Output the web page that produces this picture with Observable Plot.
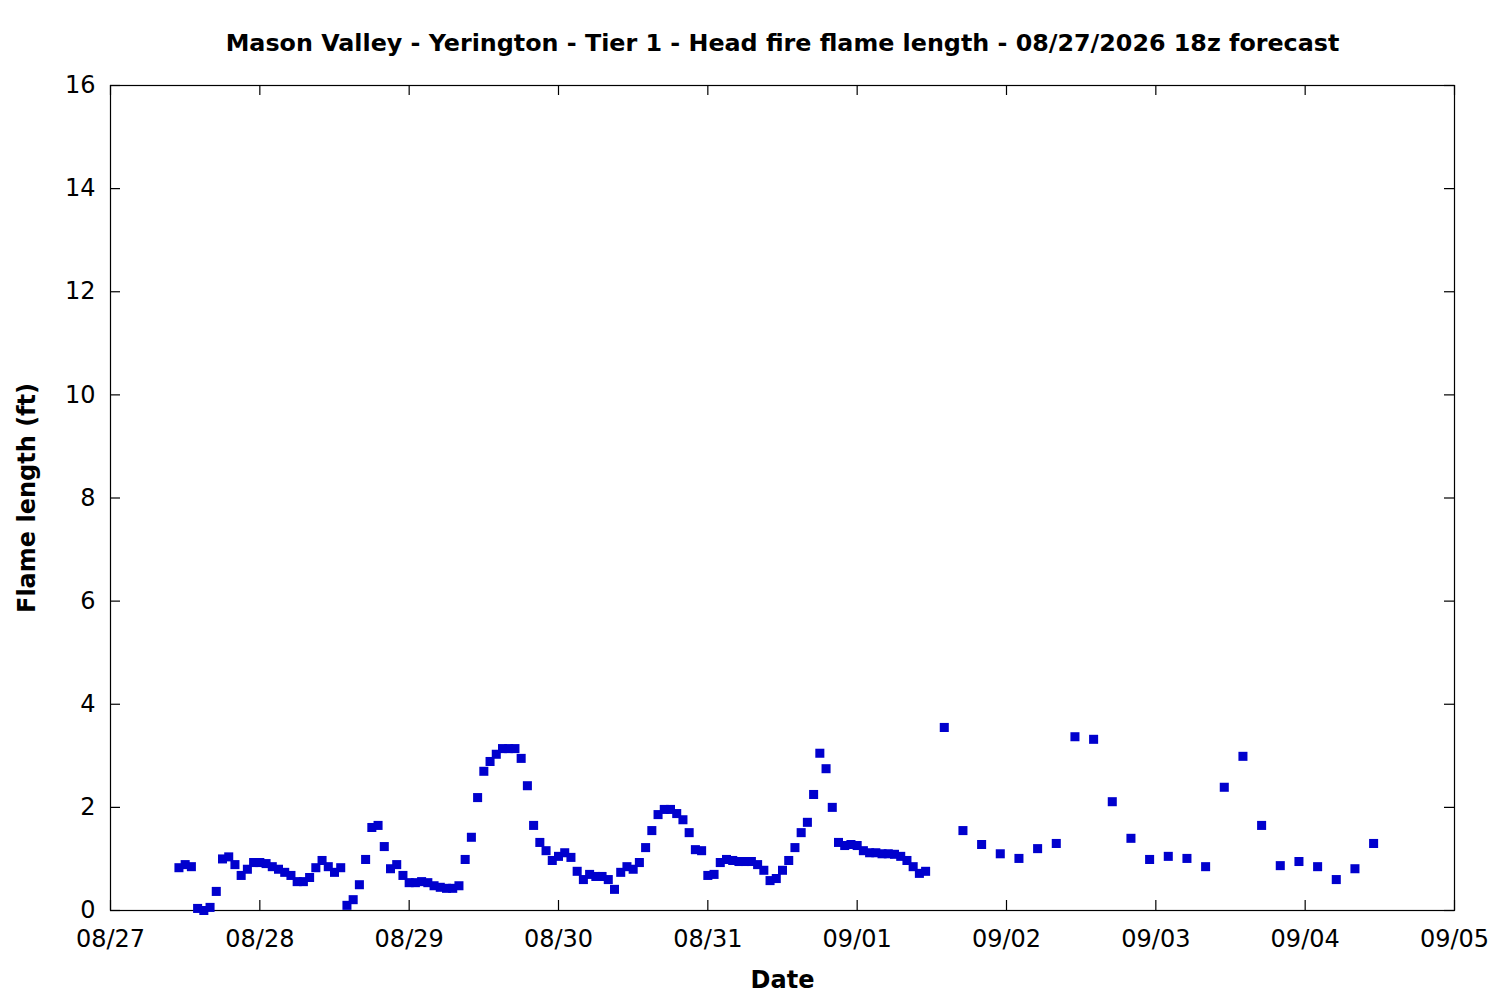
<!DOCTYPE html>
<html>
<head>
<meta charset="utf-8">
<script src="https://cdn.jsdelivr.net/npm/d3@7"></script>
<script src="https://cdn.jsdelivr.net/npm/@observablehq/plot@0.6"></script>
<style>
  html, body { margin: 0; padding: 0; background: #ffffff; }
  #chart { width: 1500px; height: 1000px; }
</style>
</head>
<body>
<div id="chart"></div>
<script>
// ---- Data ----
const titleText = "Mason Valley - Yerington - Tier 1 - Head fire flame length - 08/27/2026 18z forecast";
const xLabel = "Date";
const yLabel = "Flame length (ft)";

// hourly series, starting 08/27 11:00, one value per hour
const hourlyStart = "2026-08-27T11:00:00Z";
const hourlyValues = [
  0.83,0.89,0.85,0.04,0.0,0.06,0.37,1.0,1.04,0.89,
  0.68,0.8,0.93,0.93,0.91,0.85,0.8,0.74,0.68,0.56,
  0.56,0.64,0.83,0.97,0.85,0.74,0.83,0.1,0.21,0.5,
  0.99,1.61,1.65,1.24,0.81,0.89,0.68,0.54,0.54,0.56,
  0.54,0.48,0.45,0.43,0.43,0.48,0.99,1.42,2.19,2.7,
  2.89,3.03,3.14,3.14,3.14,2.95,2.42,1.65,1.32,1.16,
  0.97,1.05,1.12,1.03,0.76,0.6,0.7,0.66,0.66,0.6,
  0.41,0.74,0.85,0.8,0.93,1.22,1.55,1.86,1.96,1.96,
  1.88,1.76,1.51,1.18,1.16,0.68,0.7,0.93,0.99,0.97,
  0.95,0.95,0.95,0.89,0.78,0.58,0.62,0.78,0.97,1.22,
  1.51,1.71,2.25,3.05,2.75,2.0,1.32,1.26,1.28,1.26,
  1.16,1.12,1.12,1.1,1.1,1.09,1.05,0.97,0.85,0.72,
  0.76
];

// 3-hourly series, starting 09/01 14:00
const threeHourlyStart = "2026-09-01T14:00:00Z";
const threeHourlyValues = [
  3.55,1.55,1.28,1.1,1.01,1.2,1.3,3.37,3.32,2.11,1.4,0.99,
  1.05,1.01,0.85,2.39,2.99,1.65,0.87,0.95,0.85,0.6,0.81,1.3
];

const xDomain = ["2026-08-27T00:00:00Z", "2026-09-05T00:00:00Z"];
const yDomain = [0, 16];
const yTickValues = [0, 2, 4, 6, 8, 10, 12, 14, 16];

// ---- Build table ----
const t0 = new Date(hourlyStart);
const t1 = new Date(threeHourlyStart);
const points = [
  ...hourlyValues.map((v, i) => ({time: d3.utcHour.offset(t0, i), value: v})),
  ...threeHourlyValues.map((v, i) => ({time: d3.utcHour.offset(t1, 3 * i), value: v}))
];
const xDom = xDomain.map(s => new Date(s));
const dayTicks = d3.utcDay.range(xDom[0], d3.utcDay.offset(xDom[1], 1));

const W = 1500, H = 1000;
const mTop = 85, mRight = 46, mBottom = 90, mLeft = 110;
const innerW = W - mLeft - mRight;
const innerH = H - mTop - mBottom;
const tickLen = 10;
const fontFamily = "'DejaVu Sans', sans-serif";

const chart = Plot.plot({
  width: W,
  height: H,
  marginTop: mTop,
  marginRight: mRight,
  marginBottom: mBottom,
  marginLeft: mLeft,
  style: {fontFamily, fontSize: "24px", background: "#ffffff", color: "#000000"},
  x: {type: "utc", domain: xDom, ticks: dayTicks, tickFormat: d3.utcFormat("%m/%d"),
      tickSize: 0, tickPadding: 19, label: null},
  y: {domain: yDomain, ticks: yTickValues, tickSize: 0, tickPadding: 15, label: null},
  marks: [
    Plot.frame({stroke: "#000000", strokeWidth: 1.2}),
    // inward ticks (bottom, top)
    Plot.ruleX(dayTicks, {x: d => d, stroke: "#000000", strokeWidth: 1.2, insetTop: innerH - tickLen}),
    Plot.ruleX(dayTicks, {x: d => d, stroke: "#000000", strokeWidth: 1.2, insetBottom: innerH - tickLen}),
    // inward ticks (left, right)
    Plot.ruleY(yTickValues, {y: d => d, stroke: "#000000", strokeWidth: 1.2, insetRight: innerW - tickLen}),
    Plot.ruleY(yTickValues, {y: d => d, stroke: "#000000", strokeWidth: 1.2, insetLeft: innerW - tickLen}),
    Plot.dot(points, {x: "time", y: "value", symbol: "square", r: 5.1, fill: "#0000cd", stroke: "none"}),
    Plot.text([titleText], {text: d => d, frameAnchor: "top", dy: -42, lineAnchor: "middle", textAnchor: "middle",
      fontWeight: "bold", fontSize: 23.8, fill: "#000000"}),
    Plot.text([xLabel], {text: d => d, frameAnchor: "bottom", dy: 70, lineAnchor: "middle", textAnchor: "middle",
      fontWeight: "bold", fontSize: 24, fill: "#000000"}),
    Plot.text([yLabel], {text: d => d, frameAnchor: "left", dx: -83, rotate: -90, lineAnchor: "middle", textAnchor: "middle",
      fontWeight: "bold", fontSize: 24, fill: "#000000"})
  ]
});
document.getElementById("chart").appendChild(chart);
</script>
</body>
</html>
